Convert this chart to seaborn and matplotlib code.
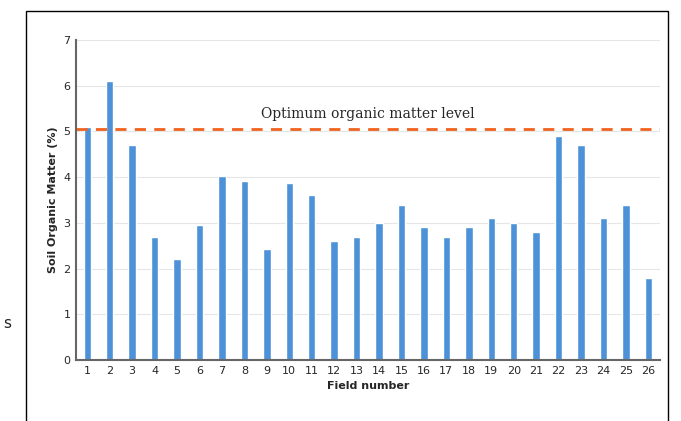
import numpy as np
import pandas as pd
import matplotlib
matplotlib.use("Agg")
import matplotlib.pyplot as plt
import seaborn as sns
from matplotlib.patches import Rectangle

fields = [str(i) for i in range(1, 27)]
organic_matter = [5.1, 6.1, 4.7, 2.7, 2.2, 2.95, 4.02, 3.92, 2.42, 3.87, 3.6, 2.6, 2.7,
                  3.0, 3.4, 2.9, 2.7, 2.9, 3.1, 3.0, 2.8, 4.9, 4.7, 3.1, 3.4, 1.8]
optimum = 5.05

df = pd.DataFrame({"Field": fields, "OM": organic_matter})

sns.set_style("white")
fig = plt.figure(figsize=(6.81, 4.21), dpi=100)
ax = fig.add_axes([0.1116, 0.145, 0.857, 0.76])

sns.barplot(data=df, x="Field", y="OM", color="#4d92d8", saturation=1, width=0.32,
            ax=ax)
for p in ax.patches:
    w = 0.33
    c = p.get_x() + p.get_width() / 2
    p.set_x(c - w / 2)
    p.set_width(w)
ax.axhline(optimum, color="#f0621e", ls=(0, (4, 3)), lw=2)
ax.text(12.5, 5.22, "Optimum organic matter level", ha="center", va="bottom",
        fontsize=10, family="DejaVu Serif")

ax.set_ylim(0, 7)
ax.set_xlim(-0.5, 25.5)
ax.set_yticks(range(8))
for y in range(1, 8):
    ax.axhline(y, color="#e6e6e6", lw=0.8, zorder=0)
ax.set_xlabel("Field number", fontsize=8, fontweight="bold")
ax.set_ylabel("Soil Organic Matter (%)", fontsize=8, fontweight="bold")
ax.tick_params(labelsize=8, length=0, pad=4)
for s in ["top", "right"]:
    ax.spines[s].set_visible(False)
for s in ["left", "bottom"]:
    ax.spines[s].set_color("#666666")
    ax.spines[s].set_linewidth(1.5)

fig.patches.append(Rectangle((26 / 681, -0.02), 642 / 681, 1 - 11 / 421 + 0.02,
                             transform=fig.transFigure, fill=False, ec="black", lw=1))
fig.text(3 / 681, 1 - 323 / 421, "s", fontsize=11, va="center")

fig.savefig("out.png", dpi=100)
